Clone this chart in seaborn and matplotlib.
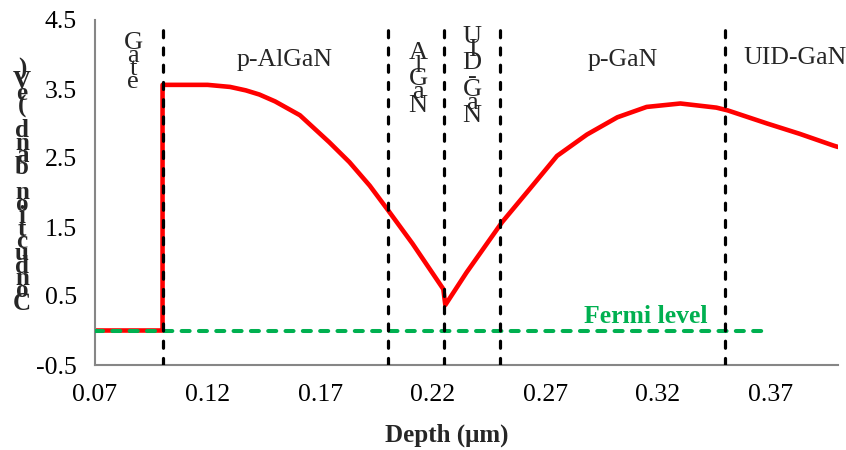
import numpy as np
import pandas as pd
import seaborn as sns
import matplotlib.pyplot as plt

# conduction band profile (depth in um, energy in eV)
depth = [0.07, 0.10, 0.10, 0.11, 0.12, 0.13, 0.137, 0.143, 0.150, 0.161, 0.174,
         0.183, 0.192, 0.200, 0.211, 0.2247, 0.2256, 0.235, 0.2508, 0.2633,
         0.2752, 0.2885, 0.302, 0.315, 0.330, 0.346, 0.351, 0.3685,
         0.383, 0.398, 0.400]
energy = [0.0, 0.0, 3.56, 3.56, 3.56, 3.53, 3.48, 3.42, 3.32, 3.12, 2.73,
          2.44, 2.10, 1.75, 1.26, 0.60, 0.37, 0.84, 1.57, 2.06,
          2.53, 2.84, 3.09, 3.24, 3.29, 3.23, 3.19, 3.00,
          2.85, 2.68, 2.66]

fermi_x = [0.07, 0.37]
fermi_y = [0.0, 0.0]

boundaries = [0.10, 0.20, 0.225, 0.25, 0.35]

region_names = ["p-AlGaN", "p-GaN", "UID-GaN"]
region_x = [0.154, 0.3045, 0.3807]
region_y = [3.92, 3.92, 3.95]

# the narrow layers have their names stacked letter by letter
stacked_names = ["Gate", "AlGaN", "UID-GaN"]
stacked_x = [0.087, 0.2135, 0.2375]
stacked_top = [4.17, 4.02, 4.25]

x_ticks = [0.07, 0.12, 0.17, 0.22, 0.27, 0.32, 0.37]
y_ticks = [-0.5, 0.5, 1.5, 2.5, 3.5, 4.5]

sns.set_style("white")
plt.rcParams['font.family'] = ['Liberation Serif', 'DejaVu Serif']

df = pd.DataFrame({"depth": depth, "energy": energy})

fig = plt.figure(figsize=(8.46, 4.5), dpi=100)
ax = fig.add_axes([95 / 846, 85 / 450, 743 / 846, 345 / 450])

sns.lineplot(data=df, x="depth", y="energy", sort=False, estimator=None,
             color="#FF0000", linewidth=3.3, ax=ax, zorder=2)
ax.plot(fermi_x, fermi_y, color="#00B050", linewidth=2.9, linestyle=(0, (2.0, 2.3)),
        dash_capstyle="round", zorder=3)
for b in boundaries:
    ax.axvline(b, color="black", linewidth=2.3, linestyle=(0, (2.2, 3.2)),
               dash_capstyle="round", zorder=4)

ax.text(0.3145, 0.21, "Fermi level", color="#00B050", fontsize=18.5,
        fontweight="bold", ha="center", va="center")

for name, x, y in zip(region_names, region_x, region_y):
    ax.text(x, y, name, fontsize=18.5, ha="center", va="center")

step = 0.19
for name, x, top in zip(stacked_names, stacked_x, stacked_top):
    for i, ch in enumerate(name):
        ax.text(x, top - i * step, ch, fontsize=19, ha="center", va="center")

# stacked y label, read bottom to top
ylab = "Conduction band (eV)"
for i, ch in enumerate(ylab):
    fig.text(22 / 846, 1 - (303 - i * 12.3) / 450, ch, fontsize=18,
             fontweight="bold", ha="center", va="center")

ax.set_xlim(0.07, 0.40)
ax.set_ylim(-0.5, 4.5)
ax.set_xticks(x_ticks)
ax.set_xticklabels([f"{t:.2f}" for t in x_ticks])
ax.set_yticks(y_ticks)
ax.set_yticklabels([f"{t:.1f}" for t in y_ticks])
ax.tick_params(axis="both", labelsize=18.5, colors="#868686", labelcolor="black",
               length=5, width=1.5, direction="out")
ax.tick_params(axis="x", pad=9)
ax.tick_params(axis="y", pad=8)

ax.set_xlabel("Depth (μm)", fontsize=18, fontweight="bold")
ax.xaxis.set_label_coords((447 - 95) / 743, -0.17)
ax.set_ylabel("")

sns.despine(ax=ax)
for s in ["left", "bottom"]:
    ax.spines[s].set_color("#868686")
    ax.spines[s].set_linewidth(1.5)

fig.savefig("out.png", dpi=100)
